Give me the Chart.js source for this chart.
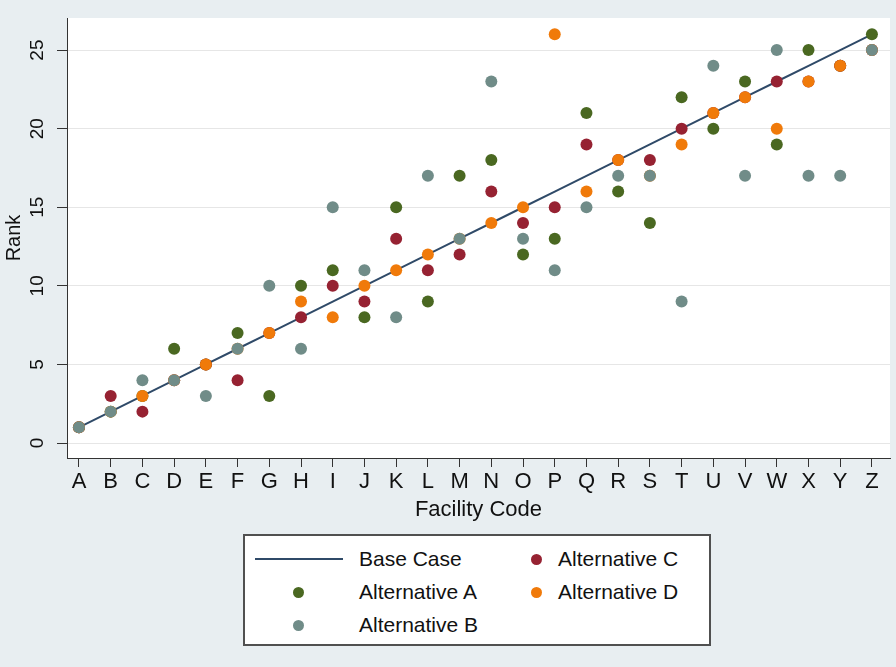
<!DOCTYPE html>
<html>
<head>
<meta charset="utf-8">
<script src="https://cdn.jsdelivr.net/npm/chart.js@4.4.0/dist/chart.umd.min.js"></script>
<style>
  html, body { margin: 0; padding: 0; background: #e8eef1; }
  #wrap { position: relative; width: 896px; height: 667px; }
  #wrap canvas { position: absolute; left: 0; top: 0; }
  .legend {
    position: absolute; left: 243px; top: 534px; width: 464px; height: 108px;
    border: 2px solid #505050; background: #fff;
    font-family: "Liberation Sans", Arial, sans-serif; font-size: 21px; color: #111;
  }
  .legend .item { position: absolute; height: 30px; line-height: 30px; white-space: nowrap; }
  .legend .dot { position: absolute; width: 11px; height: 11px; border-radius: 50%; top: 10px; }
  .legend .line { position: absolute; height: 2px; top: 14px; }
</style>
</head>
<body>
<div id="wrap">
  <canvas id="myChart" width="896" height="667"></canvas>
  <div class="legend" id="legend"></div>
</div>
<script>
// Data
const facilities = ["A","B","C","D","E","F","G","H","I","J","K","L","M","N","O","P","Q","R","S","T","U","V","W","X","Y","Z"];
const baseCase = [1,2,3,4,5,6,7,8,9,10,11,12,13,14,15,16,17,18,19,20,21,22,23,24,25,26];
const altA = [1,2,3,6,5,7,3,10,11,8,15,9,17,18,12,13,21,16,14,22,20,23,19,25,24,26];
const altB = [1,2,4,4,3,6,10,6,15,11,8,17,13,23,13,11,15,17,17,9,24,17,25,17,17,25];
const altC = [1,3,2,4,5,4,7,8,10,9,13,11,12,16,14,15,19,18,18,20,21,22,23,23,24,25];
const altD = [1,2,3,4,5,6,7,9,8,10,11,12,13,14,15,26,16,18,17,19,21,22,20,23,24,25];
const yTicks = [0,5,10,15,20,25];

const FONT = '"Liberation Sans", Arial, sans-serif';
const colors = {
  base: "#2f4a68",
  A: "#4a6821",
  B: "#708c88",
  C: "#962232",
  D: "#f07a0a"
};

const toPoints = (arr) => arr.map((v, i) => ({ x: i, y: v }));

const dotSet = (label, arr, color, order) => ({
  label: label,
  data: toPoints(arr),
  backgroundColor: color,
  borderColor: color,
  borderWidth: 0,
  pointRadius: 6,
  order: order
});

// white plot region
const plotBg = {
  id: "plotBg",
  beforeDraw(chart) {
    const { ctx, chartArea: a } = chart;
    ctx.save();
    ctx.fillStyle = "#fff";
    ctx.fillRect(a.left, a.top, a.right - a.left, a.bottom - a.top);
    ctx.restore();
  }
};

// y tick labels drawn rotated, like the Stata original
const rotatedYLabels = {
  id: "rotatedYLabels",
  afterDraw(chart) {
    const { ctx } = chart;
    const y = chart.scales.y;
    ctx.save();
    ctx.fillStyle = "#111";
    ctx.font = "19px " + FONT;
    ctx.textAlign = "center";
    ctx.textBaseline = "middle";
    yTicks.forEach((v) => {
      ctx.save();
      ctx.translate(38, y.getPixelForValue(v));
      ctx.rotate(-Math.PI / 2);
      ctx.fillText(String(v), 0, 0);
      ctx.restore();
    });
    ctx.restore();
  }
};

const datasets = [
  {
    label: "Base Case",
    data: toPoints(baseCase),
    showLine: true,
    borderColor: colors.base,
    backgroundColor: colors.base,
    borderWidth: 2,
    pointRadius: 0,
    order: 4
  },
  dotSet("Alternative A", altA, colors.A, 3),
  dotSet("Alternative B", altB, colors.B, 0),
  dotSet("Alternative C", altC, colors.C, 2),
  dotSet("Alternative D", altD, colors.D, 1)
];

var ctx = document.getElementById("myChart");
var myChart = new Chart(ctx, {
  type: "scatter",
  data: { datasets: datasets },
  options: {
    responsive: false,
    animation: false,
    layout: { padding: { top: 18, right: 6, left: 0, bottom: 140 } },
    plugins: { legend: { display: false }, tooltip: { enabled: false } },
    scales: {
      x: {
        type: "linear",
        min: -0.378,
        max: 25.57,
        afterBuildTicks: (s) => { s.ticks = facilities.map((f, i) => ({ value: i })); },
        afterFit: (s) => { s.height = 69; },
        ticks: {
          autoSkip: false,
          maxRotation: 0,
          padding: 2,
          color: "#111",
          font: { family: FONT, size: 22 },
          callback: (v) => facilities[v]
        },
        grid: { drawOnChartArea: false, drawTicks: true, tickLength: 9, tickColor: "#333" },
        border: { color: "#333", width: 1 },
        title: {
          display: true,
          text: "Facility Code",
          color: "#111",
          font: { family: FONT, size: 22 },
          padding: { top: 0, bottom: 4 }
        }
      },
      y: {
        min: -0.95,
        max: 27.04,
        afterBuildTicks: (s) => { s.ticks = yTicks.map((v) => ({ value: v })); },
        afterFit: (s) => { s.width = 67; },
        ticks: { display: false },
        grid: { color: "#e6e6e6", lineWidth: 1, drawTicks: true, tickLength: 10, tickColor: "#333" },
        border: { color: "#333", width: 1 },
        title: {
          display: true,
          text: "Rank",
          color: "#111",
          font: { family: FONT, size: 20 },
          padding: { top: 2, bottom: 2 }
        }
      }
    }
  },
  plugins: [plotBg, rotatedYLabels]
});

// Legend (two columns, filled down first)
const legendCols = [[0, 1, 2], [3, 4]];
const colX = [{ sym: 53, text: 114 }, { sym: 291, text: 313 }];
const rowY = [8, 41, 74];
let legend = document.getElementById("legend");
let html = "";
legendCols.forEach((col, c) => {
  col.forEach((di, r) => {
    const ds = datasets[di];
    const top = rowY[r];
    if (ds.showLine) {
      html += `<div class="line" style="left:10px;width:88px;top:${top + 14}px;background:${ds.borderColor}"></div>`;
    } else {
      html += `<div class="dot" style="left:${colX[c].sym - 5}px;top:${top + 10}px;background:${ds.backgroundColor}"></div>`;
    }
    html += `<div class="item" style="left:${colX[c].text}px;top:${top}px">${ds.label}</div>`;
  });
});
legend.innerHTML = html;
</script>
</body>
</html>
